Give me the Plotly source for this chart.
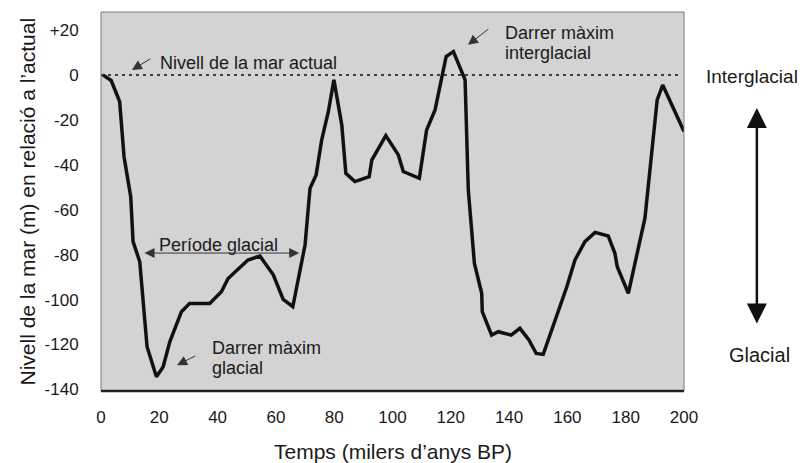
import plotly.graph_objects as go

# Time (thousands of years BP) and sea level relative to present (m)
temps = [0.6, 3.5, 6.4, 7.9, 10.2, 11.0, 13.3, 15.8, 19.0, 21.3, 23.6, 27.6, 30.4,
         37.3, 41.3, 43.6, 50.4, 54.5, 59.1, 62.5, 65.8, 70.0, 71.7, 73.8, 75.7,
         78.0, 79.9, 82.6, 84.0, 87.1, 92.0, 92.9, 97.7, 102.0, 103.7, 109.2,
         111.7, 114.6, 118.4, 120.9, 124.9, 125.8, 126.0, 128.1, 130.6, 130.8,
         134.0, 136.3, 140.7, 143.7, 146.8, 149.3, 151.7, 159.8, 162.6, 166.0,
         169.5, 174.0, 176.3, 177.1, 180.9, 186.6, 189.5, 190.8, 192.7, 200.0]
nivell = [0, -2.5, -11.9, -36.4, -54.2, -74.2, -83.2, -121, -134.4, -130, -118.8,
          -105.4, -101.7, -101.7, -96.5, -90.6, -82.4, -80.6, -89, -99.9, -103.2,
          -75.7, -50.5, -44.5, -29, -16.3, -2.2, -22.3, -43.8, -47.5, -45.3, -37.9,
          -27.0, -35.6, -43, -46, -24.5, -15.6, 8.2, 10.4, -2.2, -34.9, -51.2,
          -83.9, -97.2, -105.4, -115.8, -114.3, -115.8, -112.8, -118, -124, -124.4,
          -94.3, -82.4, -74.2, -70.1, -71.7, -79.4, -85.4, -97.2, -63.8, -27.5,
          -11.1, -4.5, -25.2]

x_ticks = [0, 20, 40, 60, 80, 100, 120, 140, 160, 180, 200]
y_ticks = [20, 0, -20, -40, -60, -80, -100, -120, -140]
y_ticktext = ["+20", "0", "-20", "-40", "-60", "-80", "-100", "-120", "-140"]

FONT = "Liberation Sans, Arial, sans-serif"
TXT = "#1a1a1a"

fig = go.Figure()
fig.add_trace(go.Scatter(x=temps, y=nivell, mode="lines",
                         line=dict(color="#111111", width=3.5),
                         hoverinfo="skip", showlegend=False))

# page has an 8px body margin; figure is sized/offset to compensate
fig.update_layout(
    width=801, height=455,
    margin=dict(l=93, r=125, t=4, b=72, autoexpand=False),
    paper_bgcolor="white", plot_bgcolor="#d3d3d3",
    font=dict(family=FONT, color=TXT, size=18),
    showlegend=False,
    xaxis=dict(range=[0, 200], tickvals=x_ticks, showgrid=False, zeroline=False,
               ticks="outside", ticklen=11, tickcolor="rgba(0,0,0,0)",
               tickfont=dict(size=17, family=FONT, color=TXT), fixedrange=True),
    yaxis=dict(range=[-140.7, 28], tickvals=y_ticks, ticktext=y_ticktext,
               showgrid=False, zeroline=False,
               ticks="outside", ticklen=18, tickcolor="rgba(0,0,0,0)",
               tickfont=dict(size=17, family=FONT, color=TXT), fixedrange=True),
)

shapes = [
    dict(type="line", xref="x", yref="y", x0=0, x1=199, y0=0, y1=0,
         line=dict(color="#111111", width=1.5, dash="3px,4px")),
    dict(type="rect", xref="paper", yref="paper", x0=0, x1=1, y0=0, y1=1,
         line=dict(color="#7a7a7a", width=1)),
    dict(type="line", xref="paper", yref="paper", x0=0, x1=1, y0=0, y1=0,
         line=dict(color="#222222", width=2.5)),
]
fig.update_layout(shapes=shapes)

ann = []
# axis titles
ann.append(dict(text="Temps (milers d’anys BP)", xref="paper", yref="paper",
                x=0.5, y=0, yshift=-60, xanchor="center", yanchor="middle",
                showarrow=False, font=dict(size=21)))
ann.append(dict(text="Nivell de la mar (m) en relació a l’actual", xref="paper",
                yref="paper", x=0, xshift=-74, y=0.5, textangle=-90,
                xanchor="center", yanchor="middle", showarrow=False,
                font=dict(size=21)))
# in-plot labels
ann.append(dict(text="Nivell de la mar actual", x=19.6, y=5.3, xanchor="left",
                yanchor="middle", showarrow=False, font=dict(size=18)))
ann.append(dict(text="", x=10.6, y=2.2, ax=17.5, ay=7.6, axref="x", ayref="y",
                showarrow=True, arrowhead=2, arrowsize=2, arrowwidth=1,
                arrowcolor="#333333"))
ann.append(dict(text="Període glacial", x=19.2, y=-75.7, xanchor="left",
                yanchor="middle", showarrow=False, font=dict(size=18)))
ann.append(dict(text="", x=68, y=-79.3, ax=14.4, ay=-79.3, axref="x", ayref="y",
                showarrow=True, arrowhead=2, arrowside="end+start", arrowsize=2,
                arrowwidth=1, arrowcolor="#333333"))
ann.append(dict(text="Darrer màxim", x=37.4, y=-121.6, xanchor="left",
                yanchor="middle", showarrow=False, font=dict(size=18)))
ann.append(dict(text="glacial", x=37.4, y=-130.5, xanchor="left",
                yanchor="middle", showarrow=False, font=dict(size=18)))
ann.append(dict(text="", x=26.1, y=-129.2, ax=32.9, ay=-124.7, axref="x",
                ayref="y", showarrow=True, arrowhead=2, arrowsize=2,
                arrowwidth=1, arrowcolor="#333333"))
ann.append(dict(text="Darrer màxim", x=137.9, y=18.7, xanchor="left",
                yanchor="middle", showarrow=False, font=dict(size=18)))
ann.append(dict(text="interglacial", x=137.9, y=9.8, xanchor="left",
                yanchor="middle", showarrow=False, font=dict(size=18)))
ann.append(dict(text="", x=125.9, y=13.4, ax=133.4, ay=20.9, axref="x",
                ayref="y", showarrow=True, arrowhead=2, arrowsize=2,
                arrowwidth=1, arrowcolor="#333333"))
# right side glacial/interglacial arrow
ann.append(dict(text="Interglacial", xref="paper", yref="paper", x=1.1166,
                y=0.8285, xanchor="center", yanchor="middle", showarrow=False,
                font=dict(size=19)))
ann.append(dict(text="Glacial", xref="paper", yref="paper", x=1.13, y=0.095,
                xanchor="center", yanchor="middle", showarrow=False,
                font=dict(size=20)))
ann.append(dict(text="", xref="paper", yref="paper", x=1.125, y=0.7467,
                ax=0, ay=217, axref="pixel", ayref="pixel", showarrow=True,
                arrowhead=2, arrowside="end+start", arrowsize=1.6,
                arrowwidth=2.5, arrowcolor="#111111"))
fig.update_layout(annotations=ann)

fig.write_html("out.html")
